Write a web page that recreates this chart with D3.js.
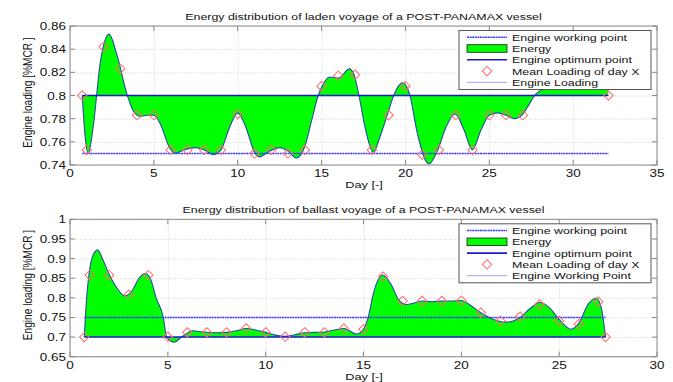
<!DOCTYPE html>
<html>
<head>
<meta charset="utf-8">
<script src="https://cdn.jsdelivr.net/npm/d3@7"></script>
<style>
  body { margin: 0; background: #fff; }
  svg { font-family: "Liberation Sans", Arial, sans-serif; }
  .grid line { stroke: #d4d4d4; stroke-dasharray: 1,1.5; }
  .grid path { display: none; }
</style>
</head>
<body>
<div id="vis"></div>
<script>
// ---- data ----
// laden voyage (top)
var ladenTitle = "Energy distribution of laden voyage of a POST-PANAMAX vessel";
var ladenXTicks = [0, 5, 10, 15, 20, 25, 30, 35];
var ladenYTicks = [0.74, 0.76, 0.78, 0.8, 0.82, 0.84, 0.86];
var ladenWorking = 0.8, ladenOptimum = 0.75, ladenStart = 0.73, ladenEnd = 32.1;
var ladenDays = [0.73, 1, 2, 3, 4, 5, 6, 7, 8, 9, 10, 11, 12, 13, 14, 15, 16, 17, 18, 19, 20, 21, 22, 23, 24, 25, 26, 27, 32.1];
var ladenMean = [0.80, 0.753, 0.842, 0.823, 0.783, 0.783, 0.753, 0.753, 0.753, 0.753, 0.784, 0.750, 0.753, 0.750, 0.753, 0.808, 0.817, 0.818, 0.753, 0.783, 0.808, 0.749, 0.753, 0.783, 0.753, 0.783, 0.783, 0.783, 0.80];
// smoothed engine loading curve, knots
var ladenCurveX = [0.73, 0.9, 1.09, 1.4, 1.8, 2.33, 2.8, 3.42, 3.8, 4.2, 4.6, 5.0, 5.4, 5.9, 6.26, 6.8, 7.5, 8.0, 8.55, 9.0, 9.5, 10.0, 10.5, 11.0, 11.3, 11.8, 12.5, 13.0, 13.5, 14.0, 14.4, 14.8, 15.1, 15.5, 16.0, 16.66, 17.0, 17.23, 17.6, 18.08, 18.5, 19.0, 19.3, 19.83, 20.27, 20.7, 21.4, 21.9, 22.4, 22.96, 23.5, 23.99, 24.5, 25.0, 25.5, 26.0, 26.5, 27.0, 27.4, 27.7, 28.2, 29, 30, 31, 31.8, 32.1];
var ladenCurveY = [0.80, 0.765, 0.750, 0.775, 0.828, 0.853, 0.835, 0.800, 0.786, 0.782, 0.783, 0.783, 0.775, 0.756, 0.750, 0.753, 0.755, 0.753, 0.749, 0.753, 0.772, 0.785, 0.772, 0.751, 0.747, 0.751, 0.755, 0.752, 0.746, 0.756, 0.778, 0.800, 0.810, 0.816, 0.815, 0.823, 0.815, 0.800, 0.772, 0.751, 0.765, 0.787, 0.800, 0.811, 0.800, 0.768, 0.741, 0.752, 0.772, 0.784, 0.770, 0.753, 0.770, 0.783, 0.785, 0.783, 0.780, 0.784, 0.793, 0.800, 0.805, 0.806, 0.806, 0.806, 0.806, 0.806];
var ladenLegend = ["Engine working point", "Energy", "Engine optimum point", "Mean Loading of day X", "Engine Loading"];

// ballast voyage (bottom)
var ballastTitle = "Energy distribution of ballast voyage of a POST-PANAMAX vessel";
var ballastXTicks = [0, 5, 10, 15, 20, 25, 30];
var ballastYTicks = [0.65, 0.7, 0.75, 0.8, 0.85, 0.9, 0.95, 1];
var ballastWorking = 0.7, ballastOptimum = 0.75, ballastStart = 0.73, ballastEnd = 27.37;
var ballastDays = [0.73, 1, 2, 3, 4, 5, 6, 7, 8, 9, 10, 11, 12, 13, 14, 15, 16, 17, 18, 19, 20, 21, 22, 23, 24, 25, 26, 27, 27.37];
var ballastMean = [0.70, 0.858, 0.858, 0.808, 0.858, 0.701, 0.712, 0.712, 0.712, 0.722, 0.712, 0.701, 0.712, 0.712, 0.722, 0.720, 0.854, 0.792, 0.792, 0.792, 0.793, 0.762, 0.741, 0.752, 0.783, 0.741, 0.733, 0.790, 0.70];
var ballastCurveX = [0.73, 0.85, 0.97, 1.15, 1.41, 1.7, 2.0, 2.4, 2.81, 3.2, 3.5, 3.83, 4.1, 4.4, 4.77, 4.94, 5.33, 5.7, 6.3, 6.8, 7.5, 8.0, 8.5, 9.0, 9.5, 10.0, 10.5, 11.0, 11.5, 12.0, 12.5, 13.0, 13.5, 14.0, 14.65, 15.0, 15.24, 15.5, 15.98, 16.4, 16.8, 17.2, 17.6, 18.0, 18.5, 19.0, 19.5, 20.0, 20.5, 21.0, 21.5, 22.3, 23.0, 23.5, 24.0, 24.5, 25.0, 25.6, 26.0, 26.5, 26.9, 27.15, 27.37];
var ballastCurveY = [0.70, 0.80, 0.86, 0.905, 0.922, 0.895, 0.86, 0.825, 0.805, 0.82, 0.848, 0.862, 0.85, 0.80, 0.75, 0.70, 0.687, 0.700, 0.716, 0.713, 0.711, 0.712, 0.716, 0.722, 0.718, 0.712, 0.705, 0.702, 0.706, 0.711, 0.712, 0.713, 0.718, 0.722, 0.708, 0.72, 0.75, 0.81, 0.858, 0.835, 0.795, 0.783, 0.787, 0.792, 0.790, 0.792, 0.792, 0.793, 0.780, 0.762, 0.748, 0.738, 0.750, 0.772, 0.788, 0.775, 0.745, 0.720, 0.735, 0.785, 0.799, 0.775, 0.70];
var ballastLegend = ["Engine working point", "Energy", "Engine optimum point", "Mean Loading of day X", "Engine Working Point"];

var W = 673, H = 382;
var SY = 0.78; // text in the picture is squashed vertically
var svg = d3.select("#vis").append("svg").attr("width", W).attr("height", H);

function zip(xs, ys) { return xs.map(function(x, i) { return {x: x, y: ys[i]}; }); }

// squashed text helper
function label(parent, x, y, str, size, anchor) {
    return parent.append("text")
        .attr("transform", "translate(" + x + "," + y + ") scale(1," + SY + ")")
        .attr("text-anchor", anchor || "start").attr("font-size", size).attr("fill", "#111")
        .text(str);
}

function panel(cfg) {
    var left = 70, right = 657;
    var x = d3.scaleLinear().domain(cfg.xDomain).range([left, right]);
    var y = d3.scaleLinear().domain(cfg.yDomain).range([cfg.bottom, cfg.top]);
    var g = svg.append("g");

    //grid
    g.append("g").attr("class", "grid")
        .attr("transform", "translate(0," + cfg.bottom + ")")
        .call(d3.axisBottom(x).tickValues(cfg.xTicks).tickSize(-(cfg.bottom - cfg.top)).tickFormat(""));
    g.append("g").attr("class", "grid")
        .attr("transform", "translate(" + left + ",0)")
        .call(d3.axisLeft(y).tickValues(cfg.yTicks).tickSize(-(right - left)).tickFormat(""));

    var curve = zip(cfg.curveX, cfg.curveY);
    var area = d3.area().curve(d3.curveMonotoneX)
        .x(function(d) { return x(d.x); })
        .y0(y(cfg.working))
        .y1(function(d) { return y(d.y); });
    var line = d3.line().curve(d3.curveMonotoneX)
        .x(function(d) { return x(d.x); })
        .y(function(d) { return y(d.y); });

    g.append("path").attr("d", area(curve)).attr("fill", "#00ff00").attr("stroke", "none");
    g.append("path").attr("d", line(curve)).attr("fill", "none").attr("stroke", "#2b4aa8").attr("stroke-width", 1.1);

    // reference lines
    g.append("line").attr("x1", x(cfg.start)).attr("x2", x(cfg.end))
        .attr("y1", y(cfg.working)).attr("y2", y(cfg.working))
        .attr("stroke", "#1a1ad0").attr("stroke-width", 1.6);
    g.append("line").attr("x1", x(cfg.start)).attr("x2", x(cfg.end))
        .attr("y1", y(cfg.optimum)).attr("y2", y(cfg.optimum))
        .attr("stroke", "#3a3aff").attr("stroke-width", 1.5).attr("stroke-dasharray", "2,0.6");

    // diamonds
    var sym = d3.symbol().type(d3.symbolSquare).size(44);
    g.selectAll(".mk").data(zip(cfg.days, cfg.mean)).enter().append("path")
        .attr("d", sym)
        .attr("transform", function(d) { return "translate(" + x(d.x) + "," + y(d.y) + ") rotate(45)"; })
        .attr("fill", "none").attr("stroke", "#ff6a6a").attr("stroke-width", 1);

    // box with inward ticks (matlab style)
    var box = g.append("g");
    box.append("rect").attr("x", left).attr("y", cfg.top).attr("width", right - left).attr("height", cfg.bottom - cfg.top)
        .attr("fill", "none").attr("stroke", "#8a8a8a").attr("stroke-width", 1);
    var tl = 5;
    cfg.xTicks.forEach(function(t) {
        box.append("line").attr("x1", x(t)).attr("x2", x(t)).attr("y1", cfg.bottom).attr("y2", cfg.bottom - tl).attr("stroke", "#8a8a8a");
        box.append("line").attr("x1", x(t)).attr("x2", x(t)).attr("y1", cfg.top).attr("y2", cfg.top + tl).attr("stroke", "#8a8a8a");
    });
    cfg.yTicks.forEach(function(t) {
        box.append("line").attr("x1", left).attr("x2", left + tl).attr("y1", y(t)).attr("y2", y(t)).attr("stroke", "#8a8a8a");
        box.append("line").attr("x1", right).attr("x2", right - tl).attr("y1", y(t)).attr("y2", y(t)).attr("stroke", "#8a8a8a");
    });

    var fmt = d3.format("~g");
    cfg.xTicks.forEach(function(t) { label(g, x(t), cfg.bottom + 12, fmt(t), 13.5, "middle"); });
    cfg.yTicks.forEach(function(t) { label(g, left - 4, y(t) + 4, fmt(t), 13.5, "end"); });

    label(g, (left + right) / 2, cfg.top - 6.5, cfg.title, 12.4, "middle");
    label(g, 364, cfg.bottom + 23, "Day [-]", 12.8, "middle");
    g.append("text").attr("transform", "translate(32," + ((cfg.top + cfg.bottom) / 2 - 3) + ") rotate(-90) scale(" + SY + ",1)")
        .attr("text-anchor", "middle").attr("font-size", 13).attr("fill", "#111").text("Engine loading [%MCR ]");

    // legend
    var lg = g.append("g").attr("transform", "translate(459," + (cfg.top + 4.5) + ")");
    lg.append("rect").attr("width", 192).attr("height", 59).attr("fill", "#fff").attr("stroke", "#555").attr("stroke-width", 1);
    var rowY = function(i) { return 6.7 + i * 11.3; };
    cfg.legend.forEach(function(lab, i) {
        label(lg, 53, rowY(i) + 3.6, lab, 12.4);
    });
    lg.append("line").attr("x1", 8).attr("x2", 48).attr("y1", rowY(0)).attr("y2", rowY(0))
        .attr("stroke", "#3a3aff").attr("stroke-width", 1.5).attr("stroke-dasharray", "2,0.6");
    lg.append("rect").attr("x", 8).attr("y", rowY(1) - 3.8).attr("width", 40).attr("height", 7.6)
        .attr("fill", "#00ff00").attr("stroke", "#1a1a1a").attr("stroke-width", 0.8);
    lg.append("line").attr("x1", 8).attr("x2", 48).attr("y1", rowY(2)).attr("y2", rowY(2))
        .attr("stroke", "#1a1ad0").attr("stroke-width", 1.6);
    lg.append("path").attr("d", sym).attr("transform", "translate(28," + rowY(3) + ") rotate(45)")
        .attr("fill", "none").attr("stroke", "#ff6a6a");
    lg.append("line").attr("x1", 8).attr("x2", 48).attr("y1", rowY(4)).attr("y2", rowY(4))
        .attr("stroke", "#a0a0ff").attr("stroke-width", 1);
}

panel({
    title: ladenTitle, top: 26, bottom: 165, xDomain: [0, 35], yDomain: [0.74, 0.86],
    xTicks: ladenXTicks, yTicks: ladenYTicks, working: ladenWorking, optimum: ladenOptimum,
    start: ladenStart, end: ladenEnd, days: ladenDays, mean: ladenMean,
    curveX: ladenCurveX, curveY: ladenCurveY, legend: ladenLegend
});
panel({
    title: ballastTitle, top: 219.3, bottom: 356.7, xDomain: [0, 30], yDomain: [0.65, 1],
    xTicks: ballastXTicks, yTicks: ballastYTicks, working: ballastWorking, optimum: ballastOptimum,
    start: ballastStart, end: ballastEnd, days: ballastDays, mean: ballastMean,
    curveX: ballastCurveX, curveY: ballastCurveY, legend: ballastLegend
});
</script>
</body>
</html>
